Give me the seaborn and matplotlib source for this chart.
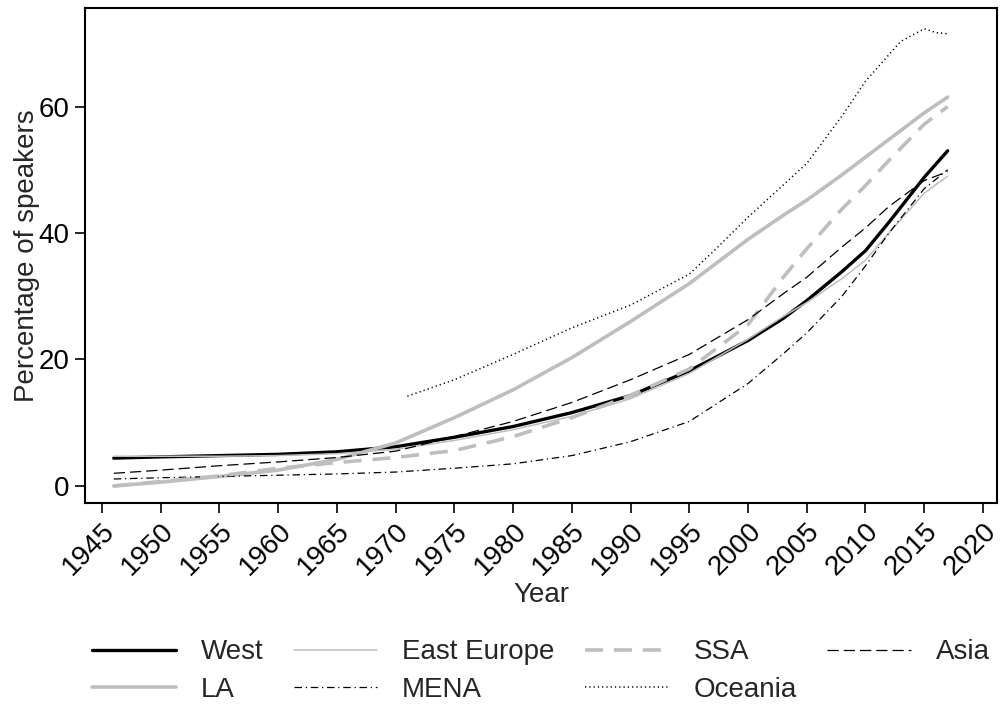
import numpy as np
import pandas as pd
import matplotlib
matplotlib.use("Agg")
import matplotlib.pyplot as plt
import seaborn as sns

# ===============================
# DATA
# ===============================
years = [1946, 1950, 1955, 1960, 1965, 1970, 1975, 1980, 1985, 1990,
         1995, 2000, 2003, 2005, 2008, 2010, 2012, 2015, 2017]

west = [4.4, 4.6, 4.8, 5.0, 5.4, 6.2, 7.7, 9.4, 11.6, 14.3,
        18.2, 23.0, 26.5, 29.3, 33.9, 37.2, 41.7, 48.8, 53.0]
east_europe = [4.7, 4.7, 4.7, 4.8, 5.1, 5.8, 7.2, 8.9, 11.0, 13.8,
               17.8, 23.2, 26.8, 29.0, 32.8, 35.7, 40.0, 46.3, 49.0]
ssa = [0.0, 0.7, 1.6, 2.8, 3.7, 4.5, 5.6, 7.8, 10.8, 14.3,
       18.5, 25.5, 33.0, 37.5, 43.8, 47.5, 51.5, 57.2, 60.0]
la = [0.0, 0.6, 1.5, 2.5, 4.2, 6.8, 10.8, 15.2, 20.3, 26.0,
      32.0, 39.0, 42.8, 45.2, 49.2, 52.0, 54.8, 59.0, 61.5]
asia = [2.0, 2.5, 3.2, 3.8, 4.5, 5.5, 7.8, 10.2, 13.2, 16.8,
        20.8, 26.3, 30.4, 33.0, 37.8, 40.8, 44.2, 48.3, 49.7]
mena = [1.1, 1.3, 1.5, 1.7, 1.9, 2.2, 2.8, 3.5, 4.8, 7.0,
        10.2, 16.2, 20.9, 24.2, 30.0, 34.8, 40.0, 47.0, 50.0]

oceania_years = [1971, 1975, 1980, 1985, 1990, 1995, 1997, 2000, 2005,
                 2008, 2010, 2013, 2015, 2016, 2017]
oceania = [14.2, 16.8, 20.8, 25.0, 28.6, 33.5, 37.0, 42.5, 51.0,
           58.5, 64.0, 70.3, 72.3, 71.7, 71.5]

x_ticks = list(range(1945, 2021, 5))
y_ticks = [0, 20, 40, 60]

# ===============================
# STYLE
# ===============================
sns.set_theme(style="white")
plt.rcParams["font.family"] = ["Liberation Sans", "DejaVu Sans"]
plt.rcParams["axes.edgecolor"] = "black"

GRAY = "#bebebe"
FS = 20

series = [
    ("West", years, west, dict(color="black", lw=2.4, linestyle="-")),
    ("LA", years, la, dict(color=GRAY, lw=2.6, linestyle="-")),
    ("East Europe", years, east_europe, dict(color=GRAY, lw=1.1, linestyle="-")),
    ("MENA", years, mena, dict(color="black", lw=0.9, linestyle=(0, (6, 3, 1, 3)))),
    ("SSA", years, ssa, dict(color=GRAY, lw=2.6, linestyle=(0, (5, 3)))),
    ("Oceania", oceania_years, oceania, dict(color="black", lw=1.1, linestyle=(0, (0.8, 2.0)))),
    ("Asia", years, asia, dict(color="black", lw=0.9, linestyle=(0, (9, 4)))),
]

fig = plt.figure(figsize=(10, 7.06), dpi=100)
ax = fig.add_axes([0.085, 0.2875, 0.912, 0.7013])

for name, xs, ys, style in series:
    sns.lineplot(x=xs, y=ys, ax=ax, label=name, **style)

ax.set_xlim(1943.55, 2021.2)
ax.set_ylim(-2.7, 75.6)
ax.set_xticks(x_ticks)
ax.set_yticks(y_ticks)
ax.set_xticklabels([str(t) for t in x_ticks], rotation=45, ha="right",
                   va="top", rotation_mode="anchor")
ax.tick_params(axis="both", direction="out", length=7, width=1.2,
               colors="black", labelsize=FS, pad=4, bottom=True, left=True)
for s in ax.spines.values():
    s.set_linewidth(1.5)
    s.set_color("black")

ax.set_xlabel("Year", fontsize=FS, labelpad=1)
ax.set_ylabel("Percentage of speakers", fontsize=FS, labelpad=-1)

ax.legend(loc="upper center", bbox_to_anchor=(0.5, -0.225), ncol=4,
          frameon=False, fontsize=FS, handlelength=3.0, handletextpad=0.9,
          columnspacing=1.1, labelspacing=0.42)

plt.savefig("out.png", dpi=100)
plt.close()
